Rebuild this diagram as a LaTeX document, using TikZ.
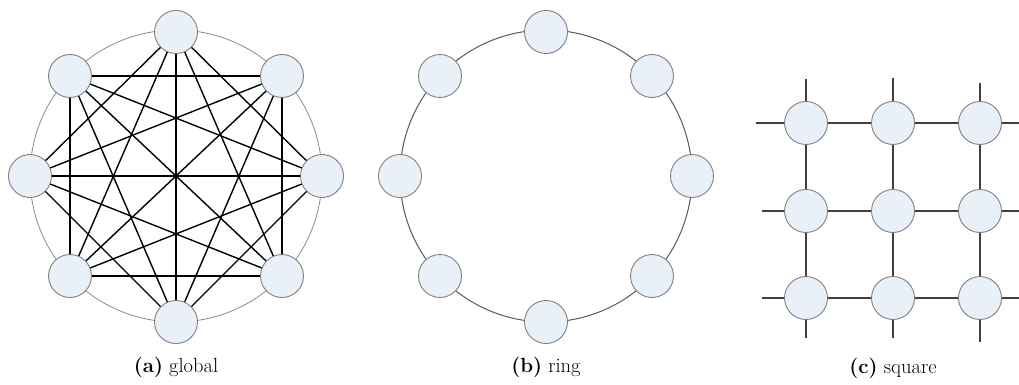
\documentclass[tikz,border=0pt]{standalone}
\usetikzlibrary{backgrounds}
\definecolor{nodefill}{HTML}{EAF0F8}
\definecolor{nodeline}{HTML}{808080}
\definecolor{meshline}{HTML}{404040}
\begin{document}
\begin{tikzpicture}[x=1pt,y=-1pt,
  vert/.style={circle,draw=nodeline,fill=nodefill,line width=0.9pt,minimum size=43pt,inner sep=0pt},
  link/.style={line width=1.4pt,black},
  faintring/.style={draw=black!45,line width=0.8pt},
  ringline/.style={draw=black!65,line width=1pt},
  mesh/.style={line width=1.8pt,draw=meshline},
  captext/.style={font=\fontsize{20.5}{24}\selectfont}]
\useasboundingbox (0,0) rectangle (1019,385);

% ---------- (a) global ----------
\node[vert] (a0) at (176,32) {};
\node[vert] (a1) at (282,76) {};
\node[vert] (a2) at (322,176) {};
\node[vert] (a3) at (282,276) {};
\node[vert] (a4) at (176,322) {};
\node[vert] (a5) at (70,276) {};
\node[vert] (a6) at (30,176) {};
\node[vert] (a7) at (70,76) {};
\coordinate (ac) at (176,176);
\begin{pgfonlayer}{background}
  \draw[faintring] (ac) circle[radius=146];
  \foreach \s/\t in {a0/a2,a0/a3,a0/a4,a0/a5,a0/a6,
                     a1/a3,a1/a4,a1/a5,a1/a6,a1/a7,
                     a2/a4,a2/a5,a2/a6,a2/a7,
                     a3/a5,a3/a6,a3/a7,
                     a4/a6,a4/a7,
                     a5/a7}
    \draw[link] (\s.center) -- (\t.center);
\end{pgfonlayer}
\node[captext] (capa) at (176,367) {\textbf{(a)} global};

% ---------- (b) ring ----------
\node[vert] (b0) at (546,32) {};
\node[vert] (b1) at (652,76) {};
\node[vert] (b2) at (692,176) {};
\node[vert] (b3) at (652,276) {};
\node[vert] (b4) at (546,322) {};
\node[vert] (b5) at (440,276) {};
\node[vert] (b6) at (400,176) {};
\node[vert] (b7) at (440,76) {};
\coordinate (bc) at (546,176);
\begin{pgfonlayer}{background}
  \draw[ringline] (bc) circle[radius=146];
\end{pgfonlayer}
\node[captext] (capb) at (546,367) {\textbf{(b)} ring};

% ---------- (c) square ----------
\node[vert] (c11) at (806,123) {};
\node[vert] (c12) at (893,123) {};
\node[vert] (c13) at (980,123) {};
\node[vert] (c21) at (806,211) {};
\node[vert] (c22) at (893,211) {};
\node[vert] (c23) at (980,211) {};
\node[vert] (c31) at (806,298) {};
\node[vert] (c32) at (893,298) {};
\node[vert] (c33) at (980,298) {};
\coordinate (l1) at (756,123);
\coordinate (l2) at (762,211);
\coordinate (l3) at (762,298);
\coordinate (r1) at (1019,123);
\coordinate (r2) at (1019,211);
\coordinate (r3) at (1019,298);
\coordinate (t1) at (806,79);
\coordinate (t2) at (893,78);
\coordinate (t3) at (980,83);
\coordinate (u1) at (806,338);
\coordinate (u2) at (893,338);
\coordinate (u3) at (980,342);
\begin{pgfonlayer}{background}
  \draw[mesh] (l1) -- (c11.center) -- (c12.center) -- (c13.center) -- (r1);
  \draw[mesh] (l2) -- (c21.center) -- (c22.center) -- (c23.center) -- (r2);
  \draw[mesh] (l3) -- (c31.center) -- (c32.center) -- (c33.center) -- (r3);
  \draw[mesh] (t1) -- (c11.center) -- (c21.center) -- (c31.center) -- (u1);
  \draw[mesh] (t2) -- (c12.center) -- (c22.center) -- (c32.center) -- (u2);
  \draw[mesh] (t3) -- (c13.center) -- (c23.center) -- (c33.center) -- (u3);
\end{pgfonlayer}
\node[captext] (capc) at (893,368) {\textbf{(c)} square};
\end{tikzpicture}
\end{document}
